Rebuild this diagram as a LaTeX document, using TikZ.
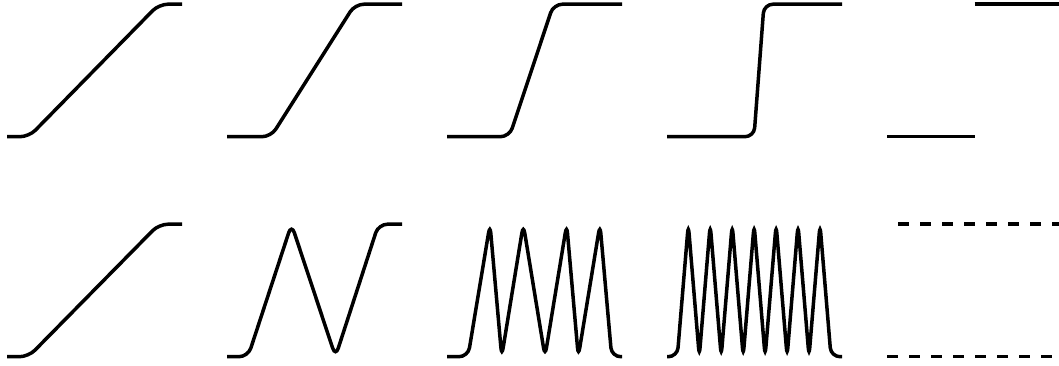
\documentclass[tikz,border=0pt]{standalone}
\usepackage{tikz}

\begin{document}
\begin{tikzpicture}[x=1pt,y=1pt,line width=3.5pt,
  wave/.style={rounded corners=9pt},
  dashline/.style={dash pattern=on 11pt off 11pt}]
\useasboundingbox (0,0) rectangle (1059,365);
% top row, ramps getting steeper
\begin{scope}[shift={(7,228.3)}]
\draw[wave] (0,0) -- (22,0) -- (152,132.5) -- (175,132.5);
\end{scope}
\begin{scope}[shift={(227,228.3)}]
\draw[wave] (0,0) -- (44,0) -- (128,132.5) -- (175,132.5);
\end{scope}
\begin{scope}[shift={(447,228.3)}]
\draw[wave] (0,0) -- (62.4,0) -- (106.5,132.5) -- (175,132.5);
\end{scope}
\begin{scope}[shift={(667,228.3)}]
\draw[wave] (0,0) -- (87,0) -- (97,132.5) -- (175,132.5);
\end{scope}
\begin{scope}[shift={(887,228.3)}]
\draw (0,0) -- (87.5,0);
\draw (87.5,132.5) -- (172,132.5);
\end{scope}
% bottom row, folded ramps
\begin{scope}[shift={(7,8.3)}]
\draw[wave] (0,0) -- (21.5,0) -- (152,132.5) -- (175,132.5);
\end{scope}
\begin{scope}[shift={(227,8.3)}]
\draw[wave] (0,0) -- (21,0) -- (64.5,132.5) -- (108.5,0) -- (151.5,132.5) -- (175,132.5);
\end{scope}
\begin{scope}[shift={(447,8.3)}]
\draw[wave] (0,0) -- (21,0) -- (43,132.5) -- (54.7,0) -- (76.3,132.5) -- (98,0)
  -- (119.7,132.5) -- (131.3,0) -- (153,132.5) -- (164.7,0) -- (175,0);
\end{scope}
\begin{scope}[shift={(667,8.3)}]
\draw[wave] (0,0) -- (10.3,0) -- (21.3,132.5) -- (32.3,0) -- (43.2,132.5) -- (54.2,0)
  -- (65.2,132.5) -- (76.2,0) -- (87.1,132.5) -- (98.1,0) -- (109.1,132.5) -- (120.1,0)
  -- (131,132.5) -- (142,0) -- (153,132.5) -- (164,0) -- (175,0);
\end{scope}
\begin{scope}[shift={(887,8.3)}]
\draw[dashline] (0,0) -- (175,0);
\draw[dashline,dash phase=11pt] (0,132.5) -- (172,132.5);
\end{scope}
\end{tikzpicture}
\end{document}
